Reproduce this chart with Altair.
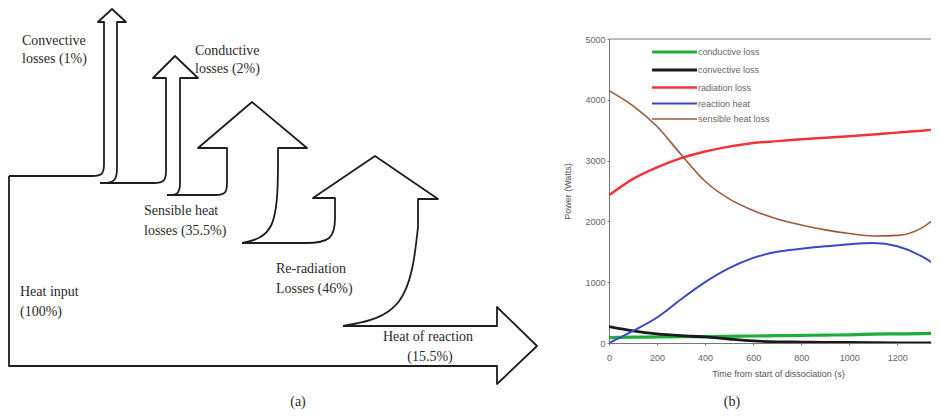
import altair as alt
import pandas as pd

# ---------------- Panel (a): energy-flow (Sankey) diagram, diagram units ----------------
# straight outline pieces (x, y) – diagram units, y grows downward
HEAT_INPUT_TOP = [(9, 177), (90, 177)]
CONVECTIVE = [(104, 163), (104, 23), (98, 23), (112, 10), (126, 23), (117, 23), (117, 166)]
LINK_1 = [(100, 184), (151, 184)]
CONDUCTIVE = [(166, 170), (166, 79), (153, 79), (175, 57), (198, 79), (180, 79), (180, 181)]
LINK_2 = [(167, 196), (213, 196)]
SENSIBLE = [(227, 182), (227, 149), (198, 149), (252, 103), (307, 149), (278, 149), (278, 168)]
LINK_3 = [(242, 244), (300, 244)]
RERADIATION = [(335, 214), (335, 199), (313, 199), (375, 157), (438, 200), (418, 200), (418, 228)]
REACTION_AND_BASE = [(343, 327), (497, 327), (497, 308), (537, 347), (497, 385), (497, 367), (9, 367), (9, 177)]

# curved outline pieces (start, control, end)
BEND_1 = [(90, 177), (104, 177), (104, 163)]
BEND_2 = [(117, 166), (117, 184), (100, 184)]
BEND_3 = [(151, 184), (166, 184), (166, 170)]
BEND_4 = [(180, 181), (180, 196), (167, 196)]
BEND_5 = [(213, 196), (227, 196), (227, 182)]
BEND_6 = [(278, 168), (277, 236), (242, 244)]
BEND_7 = [(300, 244), (335, 244), (335, 214)]
BEND_8 = [(418, 228), (408, 315), (343, 327)]

LABELS_LEFT = ["Convective", "losses (1%)", "Conductive", "losses (2%)",
               "Sensible heat", "losses (35.5%)", "Heat input", "(100%)",
               "Re-radiation", "Losses (46%)"]
LABELS_LEFT_X = [22, 22, 195, 195, 144, 144, 20, 20, 276, 276]
LABELS_LEFT_Y = [42, 60, 52, 70, 212, 232, 293, 313, 270, 290]
LABELS_CENTER = ["Heat of reaction", "(15.5%)", "(a)"]
LABELS_CENTER_X = [428, 430, 298]
LABELS_CENTER_Y = [338, 358, 403]

# ---------------- Panel (b): power vs time ----------------
TIME = [0, 100, 200, 300, 400, 500, 600, 700, 800, 900, 1000, 1100, 1200, 1300, 1380]
CONDUCTIVE_LOSS = [90, 95, 100, 105, 105, 110, 115, 120, 125, 130, 135, 145, 150, 155, 160]
CONVECTIVE_LOSS = [270, 200, 150, 120, 100, 65, 35, 20, 15, 10, 8, 5, 3, 2, 2]
RADIATION_LOSS = [2430, 2700, 2890, 3040, 3150, 3230, 3290, 3320, 3350, 3375, 3400, 3430, 3460, 3490, 3520]
REACTION_HEAT = [0, 200, 420, 720, 1000, 1230, 1400, 1500, 1550, 1590, 1625, 1645, 1590, 1430, 1230]
SENSIBLE_LOSS = [4150, 3900, 3560, 3100, 2660, 2370, 2180, 2040, 1940, 1860, 1800, 1760, 1770, 1890, 2130]
SERIES = ["conductive loss", "convective loss", "radiation loss", "reaction heat", "sensible heat loss"]
COLORS = ["#1fae3c", "#1a1a1a", "#f2343a", "#3a48c8", "#9a5a3a"]
WIDTHS = [3.2, 1.6, 2.2, 2.2, 2.0]
X_TICKS = [0, 200, 400, 600, 800, 1000, 1200]
Y_TICKS = list(range(0, 5001, 500))

SERIF = "Liberation Serif"
SANS = "Liberation Sans"


def build_segments(pieces):
    rows = []
    for name, pts in pieces.items():
        for i, (x, y) in enumerate(pts):
            rows.append({"seg": name, "i": i, "x": x, "y": y})
    return pd.DataFrame(rows)


straight = build_segments({
    "heat_top": HEAT_INPUT_TOP, "convective": CONVECTIVE, "link1": LINK_1,
    "conductive": CONDUCTIVE, "link2": LINK_2, "sensible": SENSIBLE, "link3": LINK_3,
    "reradiation": RERADIATION, "reaction": REACTION_AND_BASE,
})
curved = build_segments({
    "b1": BEND_1, "b2": BEND_2, "b3": BEND_3, "b4": BEND_4,
    "b5": BEND_5, "b6": BEND_6, "b7": BEND_7, "b8": BEND_8,
})

WA, HA = 552, 304
xs = alt.Scale(domain=[8, 8 + WA], nice=False, zero=False)
ys = alt.Scale(domain=[40, 40 + HA], nice=False, zero=False, reverse=True)

enc = dict(
    x=alt.X("x:Q", scale=xs, axis=None),
    y=alt.Y("y:Q", scale=ys, axis=None),
    detail="seg:N",
    order="i:Q",
)
outline = alt.Chart(straight).mark_line(
    color="#1e1e1e", strokeWidth=1.8, strokeJoin="round"
).encode(**enc)
bends = alt.Chart(curved).mark_line(
    color="#1e1e1e", strokeWidth=1.8, interpolate="basis", strokeJoin="round"
).encode(**enc)

lab_left = pd.DataFrame({"t": LABELS_LEFT, "x": LABELS_LEFT_X, "y": LABELS_LEFT_Y})
lab_center = pd.DataFrame({"t": LABELS_CENTER, "x": LABELS_CENTER_X, "y": LABELS_CENTER_Y})
txt_left = alt.Chart(lab_left).mark_text(
    align="left", baseline="middle", font=SERIF, fontSize=14, color="#2a2a2a"
).encode(x=alt.X("x:Q", scale=xs, axis=None), y=alt.Y("y:Q", scale=ys, axis=None), text="t:N")
txt_center = alt.Chart(lab_center).mark_text(
    align="center", baseline="middle", font=SERIF, fontSize=14, color="#2a2a2a"
).encode(x=alt.X("x:Q", scale=xs, axis=None), y=alt.Y("y:Q", scale=ys, axis=None), text="t:N")

panel_a = alt.layer(outline, bends, txt_left, txt_center).properties(width=WA, height=HA)

# ---------------- panel (b) ----------------
rows = []
for name, vals in zip(SERIES, [CONDUCTIVE_LOSS, CONVECTIVE_LOSS, RADIATION_LOSS, REACTION_HEAT, SENSIBLE_LOSS]):
    for t, v in zip(TIME, vals):
        rows.append({"time": t, "power": v, "series": name})
df = pd.DataFrame(rows)

WB, HB = 322, 304
bx = alt.Scale(domain=[0, 1340], nice=False, zero=False)
by = alt.Scale(domain=[0, 5000], nice=False)

axis_style = dict(grid=False, labelFontSize=9, titleFontSize=9, titleFontWeight="normal",
                  labelFont=SANS, titleFont=SANS, labelColor="#666", titleColor="#555",
                  tickSize=2, tickColor="#777", domainColor="#777", labelFlush=False, format="d")

lines = alt.Chart(df).mark_line(interpolate="monotone", clip=True).encode(
    x=alt.X("time:Q", scale=bx, axis=alt.Axis(
        values=X_TICKS, title="Time from start of dissociation (s)",
        labelPadding=8, titlePadding=7, titleX=169, **axis_style)),
    y=alt.Y("power:Q", scale=by, axis=alt.Axis(
        values=Y_TICKS, title="Power (Watts)",
        labelPadding=2, titlePadding=12, **axis_style)),
    color=alt.Color("series:N", sort=SERIES, scale=alt.Scale(domain=SERIES, range=COLORS),
                    legend=alt.Legend(orient="none", legendX=58.5, legendY=6, title=None,
                                      symbolType="M-4.5,0H4.5", symbolSize=100, symbolStrokeWidth=2.2,
                                      labelFontSize=9, labelFont=SANS, labelColor="#666",
                                      labelOffset=16.5, rowPadding=4.5, padding=0)),
    strokeWidth=alt.StrokeWidth("series:N", scale=alt.Scale(domain=SERIES, range=WIDTHS), legend=None),
)

top_frame = alt.Chart(pd.DataFrame({"v": [5000]})).mark_rule(color="#777", strokeWidth=1).encode(
    y=alt.Y("v:Q", scale=by)
)
tag_b = alt.Chart(pd.DataFrame({"t": ["(b)"]})).mark_text(
    align="center", baseline="middle", font=SERIF, fontSize=14, color="#2a2a2a"
).encode(x=alt.value(123), y=alt.value(363), text="t:N")

panel_b = alt.layer(lines, top_frame, tag_b).properties(width=WB, height=HB)

chart = alt.hconcat(panel_a, panel_b, spacing=49, bounds="flush").properties(
    padding={"left": 0, "top": 0, "right": 0, "bottom": 0}
).resolve_legend(color="independent", strokeWidth="independent").configure_view(stroke=None)

chart.save("out.html", embed_options={"renderer": "svg", "actions": False})
